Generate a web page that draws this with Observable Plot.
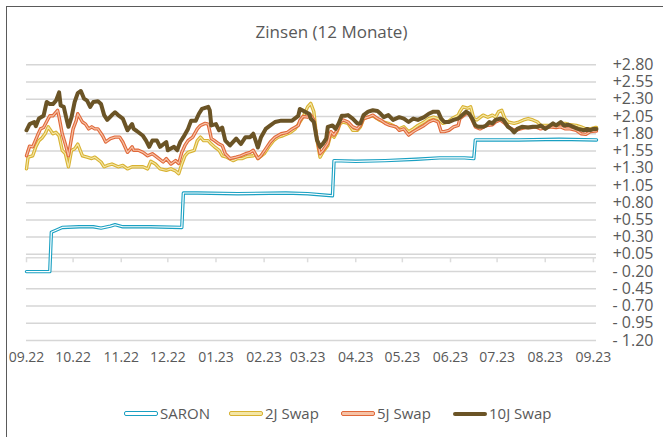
<!DOCTYPE html>
<html>
<head>
<meta charset="utf-8">
<script src="https://cdn.jsdelivr.net/npm/d3@7"></script>
<script src="https://cdn.jsdelivr.net/npm/@observablehq/plot@0.6"></script>
<style>
  html, body { margin: 0; padding: 0; background: #fff; }
  #wrap { position: relative; width: 663px; height: 437px; overflow: hidden; font-family: "Open Sans", sans-serif; color: #595959; }
  #frame { position: absolute; left: 6px; top: 6px; width: 700px; height: 480px; border-left: 1.5px solid #5a5a5a; border-top: 1.5px solid #5a5a5a; }
  #title { position: absolute; left: 0; top: 20px; width: 663px; text-align: center; font-size: 17px; line-height: 24px; }
  #chart { position: absolute; left: 0; top: 0; }
  .item { position: absolute; top: 403px; height: 20px; line-height: 20px; font-size: 15px; white-space: nowrap; }
  .sw { display: inline-block; width: 32px; height: 3px; border-radius: 2px; vertical-align: middle; margin-right: 2px; position: relative; top: -1px; }
</style>
</head>
<body>
<div id="wrap">
  <div id="frame"></div>
  <div id="title">Zinsen (12 Monate)</div>
  <div id="chart"></div>
  <div id="legend"></div>
</div>
<script>
const xTickLabels = ["09.22","10.22","11.22","12.22","01.23","02.23","03.23","04.23","05.23","06.23","07.23","08.23","09.23"];
const yTicks = [2.80,2.55,2.30,2.05,1.80,1.55,1.30,1.05,0.80,0.55,0.30,0.05,-0.20,-0.45,-0.70,-0.95,-1.20];
const seriesNames = ["SARON","2J Swap","5J Swap","10J Swap"];

const saron = [
["2022-09-01",-0.20],["2022-09-16",-0.20],["2022-09-17",0.37],["2022-09-20",0.40],["2022-09-24",0.44],["2022-10-05",0.45],["2022-10-14",0.45],["2022-10-19",0.43],["2022-10-25",0.46],["2022-10-28",0.48],["2022-11-02",0.45],["2022-11-20",0.45],["2022-12-10",0.44],
["2022-12-11",0.94],["2022-12-20",0.94],["2023-01-15",0.93],["2023-02-15",0.94],["2023-03-01",0.93],["2023-03-17",0.90],
["2023-03-18",1.41],["2023-04-01",1.40],["2023-04-20",1.41],["2023-05-10",1.43],["2023-05-25",1.45],["2023-06-10",1.45],["2023-06-16",1.44],
["2023-06-17",1.71],["2023-07-15",1.71],["2023-08-10",1.72],["2023-09-03",1.71]
];

const swap2 = [
["2022-09-01",1.29],["2022-09-02",1.46],["2022-09-05",1.48],["2022-09-07",1.61],["2022-09-09",1.70],["2022-09-11",1.74],["2022-09-13",1.80],["2022-09-15",1.90],["2022-09-18",1.80],["2022-09-20",1.82],["2022-09-22",1.77],["2022-09-24",1.56],["2022-09-26",1.51],["2022-09-28",1.32],["2022-09-30",1.56],
["2022-10-02",1.58],["2022-10-04",1.65],["2022-10-07",1.48],["2022-10-10",1.46],["2022-10-13",1.44],["2022-10-15",1.46],["2022-10-19",1.39],["2022-10-21",1.32],["2022-10-23",1.34],["2022-10-26",1.36],["2022-10-30",1.32],
["2022-11-02",1.34],["2022-11-05",1.29],["2022-11-08",1.32],["2022-11-11",1.32],["2022-11-15",1.32],["2022-11-18",1.29],["2022-11-20",1.40],["2022-11-23",1.36],["2022-11-26",1.29],["2022-11-30",1.27],
["2022-12-03",1.29],["2022-12-06",1.26],["2022-12-08",1.22],["2022-12-10",1.36],["2022-12-12",1.48],["2022-12-14",1.53],["2022-12-18",1.56],["2022-12-20",1.70],["2022-12-22",1.75],["2022-12-24",1.70],["2022-12-27",1.70],["2022-12-29",1.65],["2022-12-31",1.61],
["2023-01-03",1.56],["2023-01-05",1.48],["2023-01-08",1.46],["2023-01-12",1.41],["2023-01-15",1.44],["2023-01-18",1.44],["2023-01-21",1.47],["2023-01-25",1.48],["2023-01-26",1.51],["2023-01-28",1.44],
["2023-02-01",1.51],["2023-02-04",1.61],["2023-02-07",1.70],["2023-02-10",1.75],["2023-02-13",1.77],["2023-02-18",1.82],["2023-02-21",1.87],["2023-02-24",1.97],["2023-02-26",2.04],
["2023-03-01",2.19],["2023-03-03",2.24],["2023-03-05",2.12],["2023-03-07",1.71],["2023-03-09",1.46],["2023-03-11",1.54],["2023-03-14",1.63],["2023-03-16",1.80],["2023-03-18",1.75],["2023-03-20",1.83],["2023-03-22",1.95],["2023-03-24",1.97],["2023-03-27",1.95],["2023-03-30",1.85],
["2023-04-02",1.85],["2023-04-04",1.90],["2023-04-06",2.02],["2023-04-09",2.04],["2023-04-12",2.06],["2023-04-16",2.00],["2023-04-19",1.97],["2023-04-22",1.95],["2023-04-25",1.92],["2023-04-29",1.87],
["2023-05-02",1.90],["2023-05-05",1.83],["2023-05-08",1.87],["2023-05-11",1.92],["2023-05-15",1.97],["2023-05-18",2.02],["2023-05-21",2.04],["2023-05-24",2.02],["2023-05-27",1.95],["2023-05-30",1.97],
["2023-06-02",2.02],["2023-06-06",2.07],["2023-06-07",2.12],["2023-06-09",2.19],["2023-06-12",2.17],["2023-06-14",2.19],["2023-06-16",2.02],["2023-06-18",2.00],["2023-06-22",2.07],["2023-06-25",2.04],["2023-06-28",2.07],["2023-06-30",2.04],
["2023-07-02",2.12],["2023-07-04",2.14],["2023-07-06",2.02],["2023-07-08",1.97],["2023-07-12",1.95],["2023-07-15",1.97],["2023-07-18",2.00],["2023-07-21",2.02],["2023-07-24",2.00],["2023-07-27",1.97],["2023-07-29",1.92],
["2023-08-01",1.92],["2023-08-04",1.92],["2023-08-08",1.91],["2023-08-11",1.95],["2023-08-14",1.95],["2023-08-17",1.93],["2023-08-21",1.92],["2023-08-24",1.90],["2023-08-27",1.87],["2023-08-30",1.87],
["2023-09-02",1.89],["2023-09-03",1.89]
];

const swap5 = [
["2022-09-01",1.48],["2022-09-03",1.62],["2022-09-05",1.61],["2022-09-08",1.77],["2022-09-10",1.87],["2022-09-12",1.89],["2022-09-15",2.02],["2022-09-16",2.06],["2022-09-18",2.06],["2022-09-21",2.14],["2022-09-22",2.04],["2022-09-24",1.80],["2022-09-26",1.65],["2022-09-28",1.48],
["2022-10-01",1.87],["2022-10-03",1.99],["2022-10-04",2.09],["2022-10-07",1.97],["2022-10-09",1.94],["2022-10-11",1.87],["2022-10-13",1.90],["2022-10-15",1.87],["2022-10-17",1.87],["2022-10-20",1.77],["2022-10-22",1.68],["2022-10-25",1.73],["2022-10-28",1.75],["2022-10-31",1.75],
["2022-11-02",1.68],["2022-11-05",1.53],["2022-11-08",1.61],["2022-11-09",1.56],["2022-11-12",1.56],["2022-11-15",1.53],["2022-11-18",1.48],["2022-11-21",1.51],["2022-11-24",1.46],["2022-11-28",1.39],["2022-11-30",1.44],
["2022-12-03",1.36],["2022-12-06",1.41],["2022-12-08",1.37],["2022-12-10",1.53],["2022-12-12",1.63],["2022-12-14",1.70],["2022-12-17",1.75],["2022-12-20",1.87],["2022-12-22",1.92],["2022-12-25",1.95],["2022-12-27",1.94],["2022-12-29",1.73],["2022-12-31",1.70],
["2023-01-03",1.65],["2023-01-05",1.63],["2023-01-07",1.51],["2023-01-10",1.44],["2023-01-14",1.46],["2023-01-17",1.48],["2023-01-20",1.51],["2023-01-23",1.53],["2023-01-25",1.56],["2023-01-28",1.44],["2023-01-30",1.48],
["2023-02-02",1.58],["2023-02-05",1.68],["2023-02-08",1.75],["2023-02-12",1.80],["2023-02-16",1.82],["2023-02-19",1.87],["2023-02-23",1.92],["2023-02-24",1.99],["2023-02-26",2.05],
["2023-03-01",2.04],["2023-03-03",2.07],["2023-03-05",2.00],["2023-03-07",1.73],["2023-03-09",1.51],["2023-03-11",1.56],["2023-03-14",1.66],["2023-03-16",1.83],["2023-03-18",1.78],["2023-03-20",1.85],["2023-03-22",1.97],["2023-03-24",2.00],["2023-03-27",1.97],["2023-03-30",1.90],
["2023-04-02",1.87],["2023-04-04",1.92],["2023-04-06",2.02],["2023-04-09",2.04],["2023-04-12",2.07],["2023-04-15",2.02],["2023-04-17",2.00],["2023-04-20",1.95],["2023-04-23",1.92],["2023-04-27",1.90],["2023-04-29",1.85],
["2023-05-02",1.87],["2023-05-05",1.78],["2023-05-08",1.83],["2023-05-11",1.87],["2023-05-15",1.92],["2023-05-18",1.97],["2023-05-21",2.00],["2023-05-24",1.97],["2023-05-26",1.83],["2023-05-28",1.83],["2023-05-31",1.85],
["2023-06-03",1.90],["2023-06-06",1.92],["2023-06-07",2.02],["2023-06-11",2.09],["2023-06-13",2.09],["2023-06-15",2.00],["2023-06-17",1.90],["2023-06-20",1.87],["2023-06-24",1.92],["2023-06-28",1.93],["2023-06-30",1.97],
["2023-07-03",2.00],["2023-07-06",1.95],["2023-07-10",1.87],["2023-07-13",1.85],["2023-07-16",1.87],["2023-07-19",1.89],["2023-07-23",1.89],["2023-07-26",1.90],["2023-07-29",1.87],
["2023-08-01",1.89],["2023-08-04",1.90],["2023-08-08",1.89],["2023-08-11",1.90],["2023-08-14",1.87],["2023-08-17",1.87],["2023-08-21",1.85],["2023-08-24",1.80],["2023-08-27",1.79],["2023-08-30",1.83],
["2023-09-02",1.84],["2023-09-03",1.84]
];

const swap10 = [
["2022-09-01",1.85],["2022-09-03",1.94],["2022-09-06",1.97],["2022-09-07",1.91],["2022-09-09",2.02],["2022-09-12",2.06],["2022-09-14",2.26],["2022-09-16",2.23],["2022-09-18",2.23],["2022-09-20",2.28],["2022-09-22",2.40],["2022-09-23",2.21],["2022-09-25",2.19],["2022-09-27",1.99],["2022-09-28",1.90],["2022-09-30",2.04],
["2022-10-02",2.26],["2022-10-04",2.39],["2022-10-06",2.42],["2022-10-08",2.31],["2022-10-10",2.28],["2022-10-12",2.19],["2022-10-14",2.26],["2022-10-17",2.27],["2022-10-19",2.23],["2022-10-21",2.07],["2022-10-23",2.00],["2022-10-26",2.07],["2022-10-28",2.11],["2022-10-30",2.07],
["2022-11-02",2.02],["2022-11-05",1.85],["2022-11-08",1.94],["2022-11-09",1.87],["2022-11-11",1.84],["2022-11-15",1.77],["2022-11-17",1.70],["2022-11-19",1.61],["2022-11-21",1.70],["2022-11-24",1.70],["2022-11-26",1.61],["2022-11-30",1.68],
["2022-12-01",1.56],["2022-12-05",1.61],["2022-12-07",1.56],["2022-12-09",1.68],["2022-12-11",1.75],["2022-12-14",1.87],["2022-12-16",1.99],["2022-12-19",1.99],["2022-12-21",2.09],["2022-12-23",2.16],["2022-12-27",2.19],["2022-12-28",2.14],["2022-12-29",1.92],
["2023-01-01",1.94],["2023-01-03",1.85],["2023-01-05",1.89],["2023-01-07",1.70],["2023-01-10",1.63],["2023-01-14",1.73],["2023-01-17",1.65],["2023-01-20",1.75],["2023-01-23",1.75],["2023-01-25",1.80],["2023-01-28",1.60],["2023-01-30",1.75],
["2023-02-02",1.87],["2023-02-05",1.92],["2023-02-08",1.97],["2023-02-12",1.99],["2023-02-16",1.99],["2023-02-19",1.99],["2023-02-23",2.06],["2023-02-24",2.16],["2023-02-28",2.11],
["2023-03-02",2.09],["2023-03-03",2.02],["2023-03-05",1.97],["2023-03-07",1.71],["2023-03-09",1.61],["2023-03-11",1.66],["2023-03-13",1.73],["2023-03-14",1.90],["2023-03-17",1.92],["2023-03-19",1.87],["2023-03-21",1.95],["2023-03-23",2.06],["2023-03-25",2.06],["2023-03-27",2.07],["2023-03-30",2.02],
["2023-04-02",1.95],["2023-04-04",1.95],["2023-04-06",2.07],["2023-04-09",2.12],["2023-04-12",2.14],["2023-04-15",2.13],["2023-04-17",2.09],["2023-04-19",2.04],["2023-04-22",2.07],["2023-04-25",2.00],["2023-04-29",2.04],
["2023-05-02",2.02],["2023-05-05",1.97],["2023-05-08",2.02],["2023-05-11",2.00],["2023-05-15",2.04],["2023-05-18",2.09],["2023-05-21",2.12],["2023-05-24",2.12],["2023-05-26",2.02],["2023-05-28",1.97],["2023-05-31",1.97],
["2023-06-03",2.00],["2023-06-06",2.02],["2023-06-07",2.04],["2023-06-11",2.12],["2023-06-13",2.09],["2023-06-15",2.02],["2023-06-17",1.92],["2023-06-19",1.90],["2023-06-22",1.90],["2023-06-24",1.92],["2023-06-26",1.97],["2023-06-28",1.95],["2023-06-30",2.00],
["2023-07-03",2.02],["2023-07-05",2.00],["2023-07-08",1.90],["2023-07-10",1.87],["2023-07-12",1.82],["2023-07-14",1.87],["2023-07-17",1.90],["2023-07-21",1.89],["2023-07-24",1.90],["2023-07-27",1.90],["2023-07-29",1.92],
["2023-08-01",1.87],["2023-08-03",1.90],["2023-08-06",1.95],["2023-08-08",1.92],["2023-08-11",1.97],["2023-08-13",1.92],["2023-08-16",1.93],["2023-08-19",1.90],["2023-08-22",1.87],["2023-08-26",1.85],["2023-08-28",1.87],["2023-08-30",1.85],
["2023-09-01",1.87],["2023-09-03",1.87]
];

const outerColors = ["#1aa0c2", "#d8b232", "#e0683a", "#6b5426"];
const innerColors = ["#ffffff", "#f4e6a6", "#f6c2a6", null];

const monthTicks = xTickLabels.map(s => new Date(Date.UTC(2000 + +s.slice(3), +s.slice(0, 2) - 1, 1)));
const fmtY = v => v >= 0 ? "+" + v.toFixed(2) : "- " + Math.abs(v).toFixed(2);
const X = d => new Date(d[0]);
const Y = d => d[1];
const allSeries = [saron, swap2, swap5, swap10];

const lineMarks = [];
allSeries.forEach((s, i) => {
  if (innerColors[i]) {
    lineMarks.push(Plot.line(s, {x: X, y: Y, stroke: outerColors[i], strokeWidth: 3.4, strokeLinejoin: "round"}));
    lineMarks.push(Plot.line(s, {x: X, y: Y, stroke: innerColors[i], strokeWidth: 1.2, strokeLinejoin: "round"}));
  } else {
    lineMarks.push(Plot.line(s, {x: X, y: Y, stroke: outerColors[i], strokeWidth: 4, strokeLinejoin: "round"}));
  }
});

const chart = Plot.plot({
  width: 663,
  height: 380,
  marginTop: 64.3,
  marginBottom: 40,
  marginLeft: 26,
  marginRight: 67,
  x: {type: "utc", domain: [new Date("2022-09-01"), new Date("2023-09-03")]},
  y: {domain: [-1.2, 2.8]},
  style: {fontFamily: "'Open Sans', sans-serif", color: "#595959", background: "transparent", overflow: "visible"},
  marks: [
    Plot.gridY(yTicks, {stroke: "#d6d6d6", strokeOpacity: 1, strokeWidth: 1.5}),
    Plot.ruleY([0], {stroke: "#dcdcdc", strokeWidth: 1.5}),
    Plot.ruleX(monthTicks, {x: d => d, y1: 0, y2: 0, insetBottom: -5, stroke: "#dcdcdc", strokeWidth: 1.5}),
    Plot.axisX(monthTicks, {anchor: "bottom", tickSize: 0, tickPadding: 12, tickFormat: d3.utcFormat("%m.%y"), fontSize: 14, fill: "#595959"}),
    Plot.axisY(yTicks, {anchor: "right", tickSize: 0, tickPadding: 57, textAnchor: "end", tickFormat: fmtY, fontSize: 16, fill: "#595959"}),
    ...lineMarks
  ]
});
document.getElementById("chart").appendChild(chart);

const legendLeft = [124, 229, 341, 453];
const legend = document.getElementById("legend");
seriesNames.forEach((name, i) => {
  const item = document.createElement("div");
  item.className = "item";
  item.style.left = legendLeft[i] + "px";
  const sw = document.createElement("span");
  sw.className = "sw";
  if (innerColors[i]) {
    sw.style.background = innerColors[i];
    sw.style.border = "1px solid " + outerColors[i];
  } else {
    sw.style.background = outerColors[i];
    sw.style.height = "4px";
    sw.style.width = "34px";
  }
  item.appendChild(sw);
  item.appendChild(document.createTextNode(name));
  legend.appendChild(item);
});
</script>
</body>
</html>
